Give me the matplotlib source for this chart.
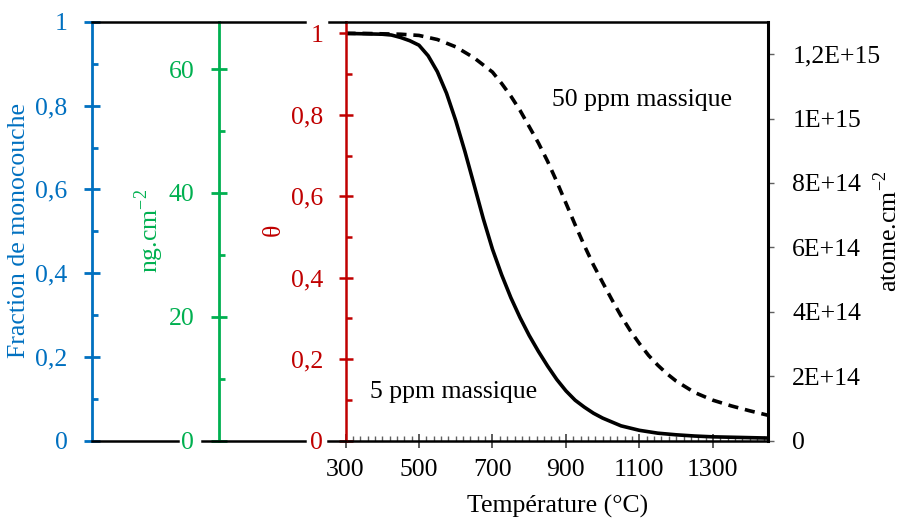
import matplotlib.pyplot as plt
from matplotlib.lines import Line2D
from matplotlib.ticker import MultipleLocator

# Température (°C) / theta
temp_5 = [300, 350, 400, 425, 450, 475, 500, 525, 550, 575, 600, 625, 650, 675,
          700, 725, 750, 775, 800, 825, 850, 875, 900, 925, 950, 975, 1000,
          1050, 1100, 1150, 1200, 1250, 1300, 1350, 1400, 1450]
theta_5 = [1.000, 0.999, 0.998, 0.996, 0.990, 0.982, 0.971, 0.945, 0.906, 0.853,
           0.786, 0.710, 0.628, 0.545, 0.470, 0.407, 0.351, 0.302, 0.258, 0.219,
           0.183, 0.150, 0.122, 0.099, 0.082, 0.067, 0.055,
           0.036, 0.025, 0.018, 0.014, 0.011, 0.009, 0.008, 0.007, 0.006]

temp_50 = [300, 350, 400, 450, 500, 550, 600, 650, 700, 725, 750, 775, 800, 825,
           850, 875, 900, 925, 950, 975, 1000, 1025, 1050, 1075, 1100, 1125,
           1150, 1175, 1200, 1250, 1300, 1350, 1400, 1450]
theta_50 = [1.000, 1.000, 0.999, 0.998, 0.995, 0.985, 0.967, 0.940, 0.905, 0.877,
            0.846, 0.811, 0.771, 0.731, 0.686, 0.636, 0.583, 0.530, 0.479, 0.431,
            0.388, 0.346, 0.306, 0.270, 0.238, 0.209, 0.185, 0.164, 0.146,
            0.118, 0.099, 0.085, 0.073, 0.062]

x_ticks = [300, 500, 700, 900, 1100, 1300]
frac_ticks = [0, 0.2, 0.4, 0.6, 0.8, 1]
frac_labels = ["0", "0,2", "0,4", "0,6", "0,8", "1"]
ng_ticks = [0, 20, 40, 60]
atome_ticks = [0, 2e14, 4e14, 6e14, 8e14, 1e15, 1.2e15]
atome_labels = ["0", "2E+14", "4E+14", "6E+14", "8E+14", "1E+15", "1,2E+15"]

BLUE = "#0070C0"
GREEN = "#00B050"
RED = "#C00000"

plt.rcParams['font.family'] = ['Liberation Serif', 'DejaVu Serif']
plt.rcParams['font.size'] = 18.5
plt.rcParams['mathtext.fontset'] = 'custom'
plt.rcParams['mathtext.rm'] = 'Liberation Serif'

W, H = 902, 520
fig = plt.figure(figsize=(W / 100, H / 100), dpi=100, facecolor="white")


def fx(px):
    return px / W


def fy(py):
    return 1 - py / H


Y0, Y1 = 440.5, 22      # bas / haut des axes (pixels)
X0, X1 = 345.5, 768     # axe theta / axe de droite
hgt = fy(Y1) - fy(Y0)

# axe principal (theta + temperature)
ax = fig.add_axes([fx(X0), fy(Y0), fx(X1) - fx(X0), hgt])
ax.plot(temp_5, theta_5, color="black", lw=2.6, solid_capstyle="butt")
ax.plot(temp_50, theta_50, color="black", lw=2.6, dashes=(2.8, 1.9))
ax.set_xlim(300, 1450)
ax.set_ylim(0, 1.028)
ax.set_xticks(x_ticks)
ax.xaxis.set_minor_locator(MultipleLocator(20))
ax.set_yticks(frac_ticks)
ax.set_yticklabels(frac_labels)
ax.yaxis.set_minor_locator(MultipleLocator(0.1))
ax.tick_params(axis="x", which="major", direction="inout", length=10, width=1.2,
               color="#404040", pad=8)
ax.tick_params(axis="x", which="minor", direction="in", length=3.5, width=1,
               color="#606060")
ax.tick_params(axis="y", which="major", direction="inout", length=10, width=1.8,
               color=RED, labelcolor=RED, pad=11)
ax.tick_params(axis="y", which="minor", direction="in", length=4.5, width=1.8,
               color=RED)
for side in ["top", "bottom", "right"]:
    ax.spines[side].set_color("black")
    ax.spines[side].set_linewidth(1.8)
ax.spines["left"].set_color(RED)
ax.spines["left"].set_linewidth(1.8)
ax.spines["left"].set_zorder(5)

# axe de droite (atome.cm-2)
ax2 = ax.twinx()
ax2.set_ylim(0, 1.3e15)
ax2.set_yticks(atome_ticks)
ax2.set_yticklabels(atome_labels)
ax2.tick_params(axis="y", direction="out", length=4.5, width=1, color="#606060",
                pad=13)
for side in ["top", "bottom", "left"]:
    ax2.spines[side].set_visible(False)
ax2.spines["right"].set_color("black")
ax2.spines["right"].set_linewidth(2.2)


def side_axis(xpx, color, top, ticks, labels, minor):
    a = fig.add_axes([fx(xpx), fy(Y0), 0.0005, hgt])
    a.patch.set_visible(False)
    for side in ["top", "bottom", "right"]:
        a.spines[side].set_visible(False)
    a.spines["left"].set_color(color)
    a.spines["left"].set_linewidth(2)
    a.set_xticks([])
    a.set_ylim(0, top)
    a.set_yticks(ticks)
    a.set_yticklabels(labels)
    a.yaxis.set_minor_locator(MultipleLocator(minor))
    a.tick_params(axis="y", which="major", direction="inout", length=11, width=2,
                  color=color, labelcolor=color, pad=12)
    a.tick_params(axis="y", which="minor", direction="in", length=4, width=2,
                  color=color)
    return a


side_axis(92, BLUE, 1, frac_ticks, frac_labels, 0.1)
side_axis(218.5, GREEN, 67.6, ng_ticks, [str(t) for t in ng_ticks], 10)

# traits noirs horizontaux (cadre)
segments = [(Y1, 92, 305), (Y1, 329, X0),
            (Y0, 92, 178), (Y0, 202, 305), (Y0, 328, X0)]
for ypx, a, b in segments:
    fig.add_artist(Line2D([fx(a), fx(b)], [fy(ypx), fy(ypx)], color="black",
                          lw=1.8, transform=fig.transFigure))

# titres des axes
fig.text(fx(19), fy(231), "Fraction de monocouche", color=BLUE, rotation=90,
         ha="center", va="center")
fig.text(fx(149), fy(231), r"ng.cm$^{-2}$", color=GREEN, rotation=90,
         ha="center", va="center")
fig.text(fx(274), fy(230), "θ", color=RED, rotation=90, ha="center", va="center")
fig.text(fx(888), fy(231), r"atome.cm$^{-2}$", color="black", rotation=90,
         ha="center", va="center")
fig.text(fx(558), fy(506), "Température (°C)", ha="center", va="center")

# annotations des courbes
fig.text(fx(552), fy(100), "50 ppm massique", ha="left", va="center")
fig.text(fx(370), fy(392), "5 ppm massique", ha="left", va="center")

fig.savefig("out.png", dpi=100, facecolor="white")
